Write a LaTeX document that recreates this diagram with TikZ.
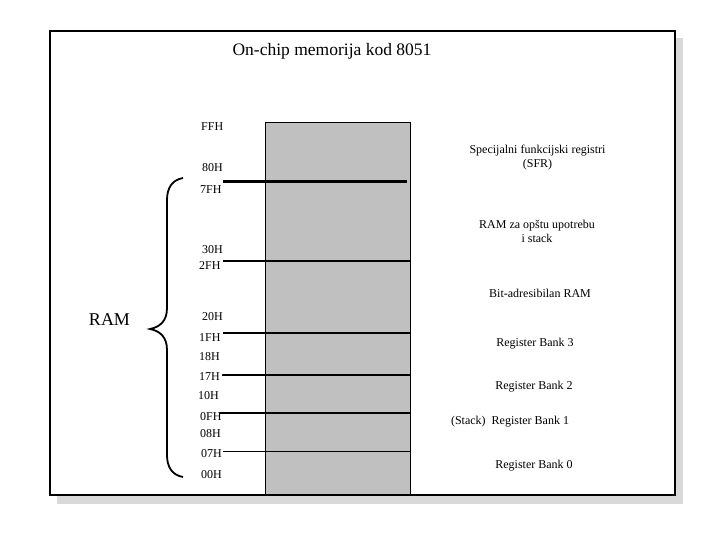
\documentclass[tikz,border=0pt]{standalone}
\usepackage{fontspec}
\setmainfont{Liberation Serif}
\begin{document}
\begin{tikzpicture}[x=1pt,y=-1pt,
  addr/.style={anchor=west,inner sep=0pt,font=\fontsize{12}{13}\selectfont},
  area/.style={align=center,inner sep=0pt,font=\fontsize{12}{14}\selectfont},
  sep/.style={draw=black,line width=1.2pt},
  bigsep/.style={draw=black,line width=3.3pt},
  midsep/.style={draw=black,line width=2pt}]
\useasboundingbox (0,0) rectangle (720,540);
% shadow and frame
\fill[gray!30] (57,38) rectangle (683,504);
\draw[line width=2.2pt,fill=white] (50,31) rectangle (675,495);
% memory block
\node[draw=black,line width=1pt,fill={rgb,255:red,192;green,192;blue,192},minimum width=144.4pt,minimum height=372pt,inner sep=0pt,anchor=north west] (mem) at (265.3,122.3) {};
% title
\node[font=\fontsize{17.5}{20}\selectfont,inner sep=0pt] (title) at (332,51) {On-chip memorija kod 8051};
% addresses
\node[addr] (ffh) at (201,127) {FFH};
\node[addr] (h80) at (202,168) {80H};
\node[addr] (h7f) at (200,190) {7FH};
\node[addr] (h30) at (202,250) {30H};
\node[addr] (h2f) at (199,266) {2FH};
\node[addr] (h20) at (202,317) {20H};
\node[addr] (h1f) at (199,338) {1FH};
\node[addr] (h18) at (199,357) {18H};
\node[addr] (h17) at (199,377) {17H};
\node[addr] (h10) at (198,396) {10H};
\node[addr] (h0f) at (200,417) {0FH};
\node[addr] (h08) at (200,434) {08H};
\node[addr] (h07) at (201,454) {07H};
\node[addr] (h00) at (201,475) {00H};
% separators
\coordinate (a1) at (223,181.3); \coordinate (b1) at (406.7,181.3);
\coordinate (a2) at (223,260.7); \coordinate (b2) at (409.7,260.7);
\coordinate (a3) at (222.7,333); \coordinate (b3) at (409.7,333);
\coordinate (a4) at (222,375); \coordinate (b4) at (409.7,375);
\coordinate (a5) at (220,413); \coordinate (b5) at (409.7,413);
\coordinate (a6) at (223,451.7); \coordinate (b6) at (409.7,451.7);
\draw[bigsep] (a1) -- (b1);
\draw[midsep] (a2) -- (b2);
\draw[sep] (a3) -- (b3);
\draw[sep] (a4) -- (b4);
\draw[sep] (a5) -- (b5);
\draw[sep] (a6) -- (b6);
% area labels
\node[area] (sfr) at (537.5,157.5) {Specijalni funkcijski registri\\(SFR)};
\node[area] (gp) at (537,231.5) {RAM za opštu upotrebu\\i stack};
\node[area] (bit) at (540,293.5) {Bit-adresibilan RAM};
\node[area] (rb3) at (535,344) {Register Bank 3};
\node[area] (rb2) at (534,386.5) {Register Bank 2};
\node[area] (rb1) at (510,421.5) {(Stack)\ \ Register Bank 1};
\node[area] (rb0) at (534,466) {Register Bank 0};
% RAM brace
\node[font=\fontsize{18}{20}\selectfont,inner sep=0pt] (ram) at (109.5,320) {RAM};
\coordinate (btop) at (183,178);
\coordinate (btip) at (150,329);
\coordinate (bbot) at (183,477);
\draw[line width=1.8pt] (btop) .. controls (172,180) and (167,188) .. (167,200) -- (167,308)
  .. controls (167,321) and (160,327) .. (btip)
  .. controls (160,331) and (167,337) .. (167,350) -- (167,455)
  .. controls (167,467) and (172,475) .. (bbot);
\end{tikzpicture}
\end{document}
